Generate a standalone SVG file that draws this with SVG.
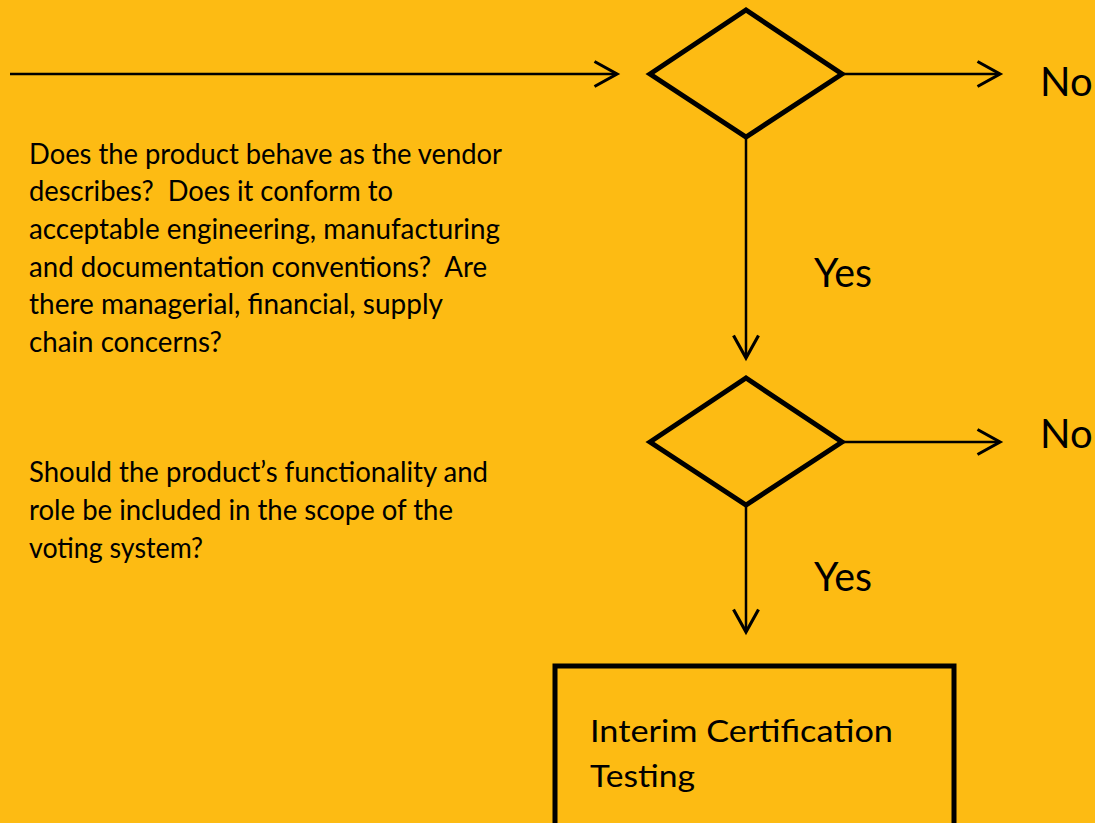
<svg xmlns="http://www.w3.org/2000/svg" width="1095" height="823" viewBox="0 0 1095 823">
<style>
.bg{fill:#FDBB13}
.shape{fill:none;stroke:#000;stroke-width:5;stroke-linejoin:miter}
.conn{fill:none;stroke:#000;stroke-width:2.5}
.t{font-family:Lato,"Open Sans","Liberation Sans",sans-serif;fill:#000;white-space:pre}
.para{font-size:29px}
.lbl{font-size:40px}
.box{font-size:31px}
</style>
<defs>
<marker id="arr" markerUnits="userSpaceOnUse" markerWidth="30" markerHeight="30" viewBox="-20 -12 22 24" refX="0" refY="0" orient="auto" overflow="visible">
<path d="M-18,-10 L0,0 L-18,10" fill="none" stroke="#000" stroke-width="2.5"/>
</marker>
</defs>
<rect class="bg" x="0" y="0" width="1095" height="823"/>
<g id="connectors">
<line class="conn" x1="10" y1="74" x2="617" y2="74" marker-end="url(#arr)"/>
<line class="conn" x1="843" y1="74" x2="1000" y2="74" marker-end="url(#arr)"/>
<line class="conn" x1="746" y1="137" x2="746" y2="358" marker-end="url(#arr)"/>
<line class="conn" x1="843" y1="442" x2="1000" y2="442" marker-end="url(#arr)"/>
<line class="conn" x1="746" y1="505" x2="746" y2="632" marker-end="url(#arr)"/>
</g>
<g id="decision1">
<polygon class="shape" points="650,74 746,10 842,74 746,137"/>
</g>
<g id="decision2">
<polygon class="shape" points="650,442 746,378 842,442 746,505"/>
</g>
<g id="testing">
<rect class="shape" x="555" y="666" width="399" height="200"/>
<text class="t box" x="590" y="742" textLength="303" lengthAdjust="spacingAndGlyphs">Interim Certification</text>
<text class="t box" x="590" y="787" textLength="105" lengthAdjust="spacingAndGlyphs">Testing</text>
</g>
<g id="question1">
<text class="t para" x="29" y="164" textLength="473" lengthAdjust="spacingAndGlyphs">Does the product behave as the vendor</text>
<text class="t para" x="29" y="201" textLength="364" lengthAdjust="spacingAndGlyphs">describes?  Does it conform to</text>
<text class="t para" x="29" y="239" textLength="471" lengthAdjust="spacingAndGlyphs">acceptable engineering, manufacturing</text>
<text class="t para" x="29" y="277" textLength="458" lengthAdjust="spacingAndGlyphs">and documentation conventions?  Are</text>
<text class="t para" x="29" y="314" textLength="414" lengthAdjust="spacingAndGlyphs">there managerial, financial, supply</text>
<text class="t para" x="29" y="352" textLength="193" lengthAdjust="spacingAndGlyphs">chain concerns?</text>
</g>
<g id="question2">
<text class="t para" x="29" y="482" textLength="459" lengthAdjust="spacingAndGlyphs">Should the product’s functionality and</text>
<text class="t para" x="29" y="520" textLength="424" lengthAdjust="spacingAndGlyphs">role be included in the scope of the</text>
<text class="t para" x="29" y="558" textLength="174" lengthAdjust="spacingAndGlyphs">voting system?</text>
</g>
<g id="labels">
<text class="t lbl" x="1040" y="96">No</text>
<text class="t lbl" x="814" y="287" textLength="58" lengthAdjust="spacingAndGlyphs">Yes</text>
<text class="t lbl" x="1040" y="448">No</text>
<text class="t lbl" x="814" y="591" textLength="58" lengthAdjust="spacingAndGlyphs">Yes</text>
</g>
</svg>
